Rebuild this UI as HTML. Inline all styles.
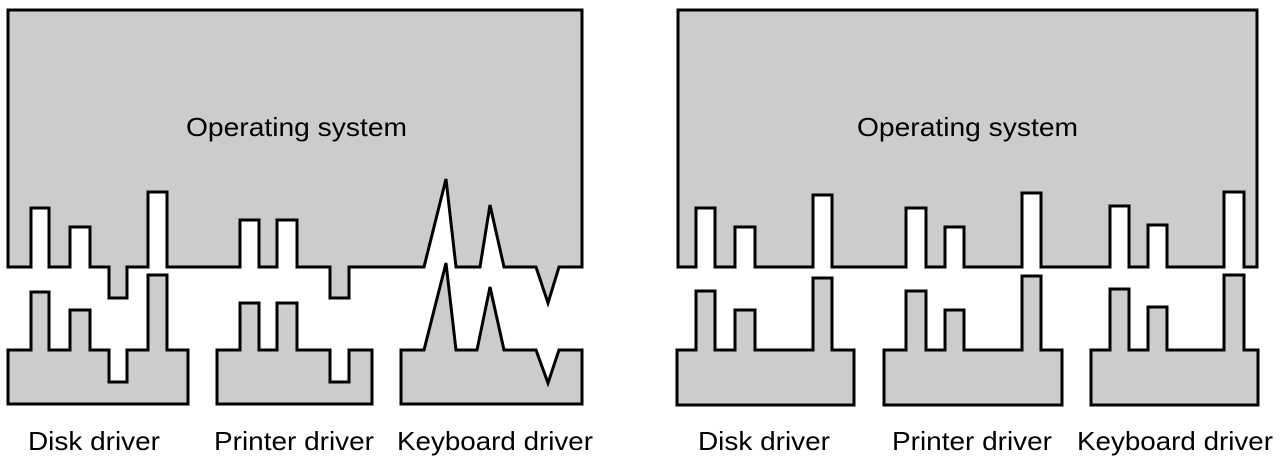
<!DOCTYPE html>
<html><head><style>
html,body{margin:0;padding:0;background:#fff;}
svg{display:block;}
text{font-family:"Liberation Sans",sans-serif;font-size:26px;fill:#000;}
</style></head><body>
<svg width="1282" height="461" viewBox="0 0 1282 461" xmlns="http://www.w3.org/2000/svg">
<g fill="#cccccc" stroke="#000" stroke-width="3" stroke-linejoin="miter">
<path d="M8,10 H582 V267 H559 L548,303 L536,267 H504 L490,205 L480,267 H456 L446,179 L424,267 H349 V298 H330 V267 H297 V220 H277 V267 H259 V220 H240 V267 H167 V192 H148 V267 H127 V298 H109 V267 H90 V227 H70 V267 H49 V208 H31 V267 H8 Z"/>
<path d="M8,404 V350 H31 V292 H49 V350 H70 V310 H90 V350 H109 V382 H127 V350 H148 V275 H167 V350 H188 V404 Z"/>
<path d="M217,404 V350 H240 V303 H259 V350 H277 V303 H297 V350 H330 V382 H349 V350 H372 V404 Z"/>
<path d="M401,404 V350 H424 L446,263 L456,350 H477 L490,287 L504,350 H536 L548,383 L559,350 H582 V404 Z"/>
<path d="M678,10 H1257 V267 H1244 V192 H1224 V267 H1167 V225 H1148 V267 H1129 V206 H1110 V267 H1041 V193 H1022 V267 H964 V227 H945 V267 H926 V208 H906 V267 H832 V195 H813 V267 H755 V227 H735 V267 H715 V208 H696 V267 H678 Z"/>
<path d="M677,405 V350 H696 V291 H715 V350 H735 V310 H755 V350 H813 V278 H832 V350 H854 V405 Z"/>
<path d="M884,405 V350 H906 V291 H926 V350 H945 V310 H964 V350 H1022 V276 H1041 V350 H1062 V405 Z"/>
<path d="M1091,405 V350 H1110 V289 H1129 V350 H1148 V307 H1167 V350 H1224 V275 H1244 V350 H1258 V405 Z"/>
</g>
<text x="186" y="136" textLength="221" lengthAdjust="spacingAndGlyphs">Operating system</text>
<text x="857" y="136" textLength="221" lengthAdjust="spacingAndGlyphs">Operating system</text>
<text x="28" y="450" textLength="132" lengthAdjust="spacingAndGlyphs">Disk driver</text>
<text x="214" y="450" textLength="160" lengthAdjust="spacingAndGlyphs">Printer driver</text>
<text x="397" y="450" textLength="196" lengthAdjust="spacingAndGlyphs">Keyboard driver</text>
<text x="698" y="450" textLength="132" lengthAdjust="spacingAndGlyphs">Disk driver</text>
<text x="892" y="450" textLength="160" lengthAdjust="spacingAndGlyphs">Printer driver</text>
<text x="1077" y="450" textLength="196" lengthAdjust="spacingAndGlyphs">Keyboard driver</text>
</svg>
</body></html>
